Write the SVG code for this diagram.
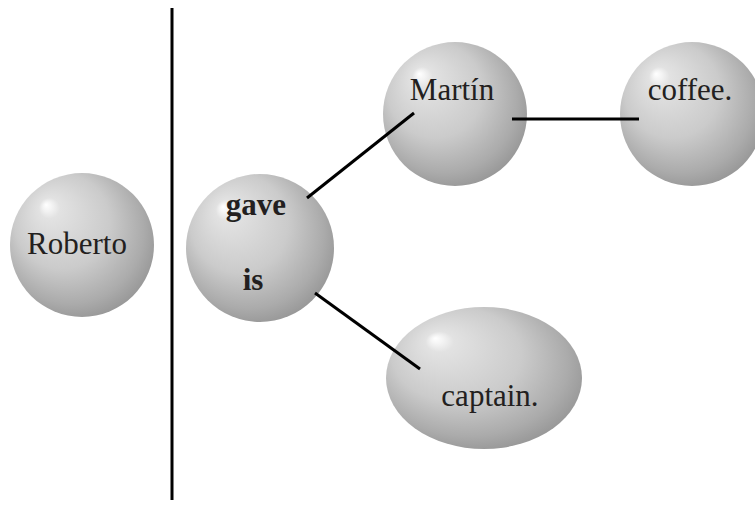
<svg xmlns="http://www.w3.org/2000/svg" width="755" height="506" viewBox="0 0 755 506">
<defs>
<radialGradient id="ball" cx="0.45" cy="0.43" r="0.6" fx="0.25" fy="0.22">
<stop offset="0" stop-color="#ffffff"/>
<stop offset="0.05" stop-color="#f4f4f4"/>
<stop offset="0.12" stop-color="#e2e2e2"/>
<stop offset="0.55" stop-color="#cbcbcb"/>
<stop offset="0.85" stop-color="#ababab"/>
<stop offset="1" stop-color="#969696"/>
</radialGradient>
</defs>
<style>
.n{fill:url(#ball);stroke:none}
.t{font-family:"Liberation Serif","Times New Roman",serif;font-size:31px;fill:#231f20}
.b{font-weight:bold}
.c{stroke:#000;stroke-width:3;fill:none}
</style>
<rect width="755" height="506" fill="#fff"/>
<line x1="172" y1="8" x2="172" y2="500" stroke="#000" stroke-width="3"/>
<g id="roberto"><circle class="n" cx="82" cy="245" r="72"/><text class="t" x="77" y="254" text-anchor="middle">Roberto</text></g>
<g id="gave"><circle class="n" cx="260" cy="248" r="74"/><text class="t b" x="256" y="215" text-anchor="middle">gave</text><text class="t b" x="253" y="290" text-anchor="middle">is</text></g>
<g id="martin"><circle class="n" cx="455" cy="114" r="72"/><text class="t" x="452" y="100" text-anchor="middle">Martín</text></g>
<g id="coffee"><circle class="n" cx="692" cy="114" r="72"/><text class="t" x="690" y="100" text-anchor="middle">coffee.</text></g>
<g id="captain"><ellipse class="n" cx="484" cy="378" rx="98" ry="71"/><text class="t" x="490" y="406" text-anchor="middle">captain.</text></g>
<g id="connectors">
<line class="c" x1="307" y1="198" x2="414" y2="113"/>
<line class="c" x1="512" y1="119" x2="639" y2="119"/>
<line class="c" x1="315" y1="293" x2="420" y2="369"/>
</g>
</svg>
